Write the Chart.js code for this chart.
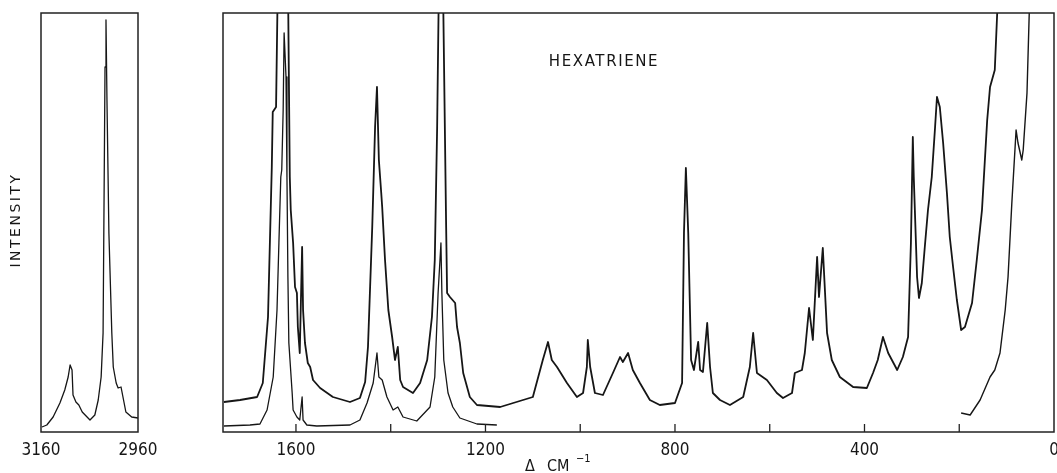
<!DOCTYPE html>
<html>
<head>
<meta charset="utf-8">
<script src="https://cdn.jsdelivr.net/npm/chart.js@4.4.1/dist/chart.umd.min.js"></script>
<style>
  html, body { margin: 0; padding: 0; background: #fff; overflow: hidden; }
  #chartLeft { position: absolute; left: 0; top: 0; }
  #chartRight { position: absolute; left: 200px; top: 0; }
</style>
</head>
<body>
<canvas id="chartLeft" width="170" height="473"></canvas>
<canvas id="chartRight" width="875" height="473"></canvas>
<script>
// C-H stretch region (left panel)
const leftShift = [3158, 3148, 3135, 3121, 3111, 3104, 3100, 3096, 3094, 3088,
  3082, 3075, 3059, 3049, 3042, 3036, 3032, 3030, 3028, 3026,
  3024, 3020, 3014, 3011, 3005, 3001, 2995, 2991, 2985, 2973, 2960];
const leftIntensity = [5, 7, 15, 29, 42, 55, 67, 62, 37, 30,
  27, 20, 12, 17, 32, 55, 99, 232, 365, 412,
  332, 199, 99, 65, 49, 44, 45, 35, 20, 15, 14];

// high gain trace, full range
const upperShift = [1752, 1718, 1682, 1670, 1659, 1651, 1649, 1642, 1638, 1627,
  1617, 1615, 1613, 1611, 1606, 1602, 1598, 1596, 1592, 1587,
  1585, 1581, 1575, 1570, 1564, 1549, 1522, 1486, 1465, 1454,
  1448, 1439, 1433, 1429, 1425, 1420, 1418, 1412, 1405, 1397,
  1391, 1385, 1380, 1374, 1353, 1338, 1323, 1313, 1307, 1302,
  1298, 1290, 1283, 1281, 1275, 1264, 1260, 1254, 1247, 1233,
  1218, 1169, 1100, 1079, 1068, 1060, 1049, 1028, 1007, 994,
  986, 984, 979, 969, 952, 931, 916, 910, 899, 889,
  874, 853, 832, 800, 785, 781, 777, 772, 766, 760,
  751, 747, 741, 732, 726, 720, 705, 684, 656, 642,
  635, 627, 606, 585, 572, 553, 547, 532, 526, 517,
  509, 500, 496, 488, 479, 469, 452, 424, 395, 382,
  372, 361, 350, 331, 319, 308, 302, 298, 296, 289,
  285, 279, 272, 266, 258, 251, 247, 241, 234, 226,
  220, 213, 205, 196, 188, 173, 163, 152, 141, 135,
  125, 118, 110];
const upperIntensity = [30, 32, 35, 49, 115, 265, 320, 325, 460, 470,
  460, 355, 255, 222, 189, 145, 139, 105, 79, 185,
  122, 89, 69, 65, 52, 44, 35, 30, 34, 50,
  85, 205, 305, 345, 272, 239, 225, 172, 122, 95,
  72, 85, 52, 45, 39, 49, 72, 115, 172, 305,
  460, 460, 205, 139, 135, 129, 105, 89, 59, 35,
  27, 25, 35, 72, 90, 72, 65, 49, 35, 39,
  65, 92, 65, 39, 37, 59, 75, 70, 79, 62,
  49, 32, 27, 29, 49, 199, 264, 199, 72, 62,
  90, 62, 60, 109, 65, 39, 32, 27, 35, 65,
  99, 59, 52, 39, 34, 39, 59, 62, 79, 124,
  92, 175, 135, 184, 99, 72, 55, 45, 44, 59,
  72, 95, 79, 62, 75, 95, 189, 295, 255, 155,
  134, 149, 189, 222, 255, 305, 335, 325, 289, 239,
  195, 165, 132, 102, 105, 129, 172, 222, 312, 345,
  362, 440, 470];

// low gain trace, 1750 - 1180
const lowerShift = [1752, 1697, 1676, 1661, 1648, 1640, 1636, 1632, 1630, 1627,
  1625, 1621, 1619, 1617, 1615, 1608, 1606, 1598, 1592, 1587,
  1585, 1577, 1556, 1486, 1465, 1450, 1437, 1429, 1425, 1418,
  1408, 1395, 1385, 1374, 1345, 1317, 1307, 1300, 1294, 1292,
  1288, 1279, 1269, 1254, 1218, 1176];
const lowerIntensity = [6, 7, 8, 22, 55, 122, 189, 255, 262, 322,
  399, 355, 255, 155, 89, 39, 22, 15, 12, 35,
  12, 7, 6, 7, 12, 29, 49, 79, 55, 52,
  35, 22, 25, 15, 11, 25, 55, 139, 189, 139,
  72, 39, 25, 14, 8, 7];

// low gain trace near the exciting line
const tailShift = [196, 177, 156, 135, 125, 114, 103, 97, 89, 80, 76, 68, 65, 57, 51, 45];
const tailIntensity = [19, 17, 32, 55, 62, 79, 122, 155, 229, 302, 289, 272, 282, 339, 440, 470];

const leftTickLabels = [3160, 2960];
const rightTickLabels = [1600, 1200, 800, 400, 0];

const FONT = '"DejaVu Sans Condensed", "Liberation Sans Narrow", "DejaVu Sans", sans-serif';
const INK = "#161616";

const toPoints = (xs, ys) => xs.map((x, i) => ({ x: x, y: ys[i] }));

const lineSet = (xs, ys, width) => ({
  data: toPoints(xs, ys),
  borderColor: INK,
  borderWidth: width,
  pointRadius: 0,
  tension: 0,
  borderJoinStyle: "round",
  fill: false,
});

// box round the plot area
const framePlugin = {
  id: "frame",
  afterDatasetsDraw(chart) {
    const { ctx, chartArea } = chart;
    ctx.save();
    ctx.strokeStyle = "#222";
    ctx.lineWidth = 1.5;
    ctx.strokeRect(chartArea.left, chartArea.top, chartArea.right - chartArea.left, chartArea.bottom - chartArea.top);
    ctx.restore();
  },
};

// short ticks pointing into the plot
const innerTicks = {
  id: "innerTicks",
  afterDatasetsDraw(chart) {
    const { ctx, chartArea } = chart;
    const xs = chart.scales.x;
    ctx.save();
    ctx.strokeStyle = "#222";
    ctx.lineWidth = 1.3;
    for (const t of xs.ticks) {
      if (t.value <= 0) continue;
      const px = xs.getPixelForValue(t.value);
      ctx.beginPath();
      ctx.moveTo(px, chartArea.bottom);
      ctx.lineTo(px, chartArea.bottom - 8);
      ctx.stroke();
    }
    ctx.restore();
  },
};

const intensityLabel = {
  id: "intensityLabel",
  afterDraw(chart) {
    const ctx = chart.ctx;
    ctx.save();
    ctx.fillStyle = INK;
    ctx.font = '14px "DejaVu Sans", sans-serif';
    ctx.letterSpacing = "2.5px";
    ctx.textAlign = "center";
    ctx.textBaseline = "middle";
    ctx.translate(16, 220);
    ctx.rotate(-Math.PI / 2);
    ctx.fillText("INTENSITY", 0, 0);
    ctx.restore();
  },
};

const labelsPlugin = {
  id: "labels",
  afterDraw(chart) {
    const ctx = chart.ctx;
    ctx.save();
    ctx.fillStyle = INK;
    ctx.textBaseline = "middle";
    ctx.font = '15px "DejaVu Sans", sans-serif';
    ctx.letterSpacing = "1.6px";
    ctx.textAlign = "center";
    ctx.fillText("HEXATRIENE", 404, 62);
    ctx.letterSpacing = "0px";
    ctx.textAlign = "left";
    ctx.font = "16px " + FONT;
    ctx.fillText("Δ", 325, 467);
    ctx.fillText("CM", 347, 467);
    ctx.font = "11px " + FONT;
    ctx.fillText("−1", 376, 459);
    ctx.restore();
  },
};

const tickFont = { family: FONT, size: 17 };

new Chart(document.getElementById("chartLeft"), {
  type: "line",
  data: { datasets: [lineSet(leftShift, leftIntensity, 1.3)] },
  options: {
    responsive: false,
    animation: false,
    layout: { padding: { left: 41, right: 32, top: 13, bottom: 0 } },
    plugins: { legend: { display: false }, tooltip: { enabled: false } },
    scales: {
      x: {
        type: "linear",
        reverse: true,
        min: 2960,
        max: 3160,
        afterFit: (s) => { s.height = 41; },
        grid: { display: false },
        border: { display: false },
        ticks: {
          stepSize: 200,
          autoSkip: false,
          maxRotation: 0,
          padding: 0,
          color: INK,
          font: tickFont,
          callback: (v) => (leftTickLabels.includes(v) ? String(v) : ""),
        },
      },
      y: { display: false, min: 0, max: 419 },
    },
  },
  plugins: [framePlugin, intensityLabel],
});

new Chart(document.getElementById("chartRight"), {
  type: "line",
  data: {
    datasets: [
      lineSet(upperShift, upperIntensity, 1.8),
      lineSet(lowerShift, lowerIntensity, 1.3),
      lineSet(tailShift, tailIntensity, 1.4),
    ],
  },
  options: {
    responsive: false,
    animation: false,
    layout: { padding: { left: 23, right: 21, top: 13, bottom: 0 } },
    plugins: { legend: { display: false }, tooltip: { enabled: false } },
    scales: {
      x: {
        type: "linear",
        reverse: true,
        min: 0,
        max: 1754,
        afterBuildTicks: (s) => { s.ticks = s.ticks.filter((t) => t.value % 200 === 0); },
        afterFit: (s) => { s.height = 41; },
        grid: { display: false },
        border: { display: false },
        ticks: {
          stepSize: 200,
          autoSkip: false,
          maxRotation: 0,
          padding: 0,
          color: INK,
          font: tickFont,
          callback: (v) => (rightTickLabels.includes(v) ? String(v) : ""),
        },
      },
      y: { display: false, min: 0, max: 419 },
    },
  },
  plugins: [framePlugin, innerTicks, labelsPlugin],
});
</script>
</body>
</html>
